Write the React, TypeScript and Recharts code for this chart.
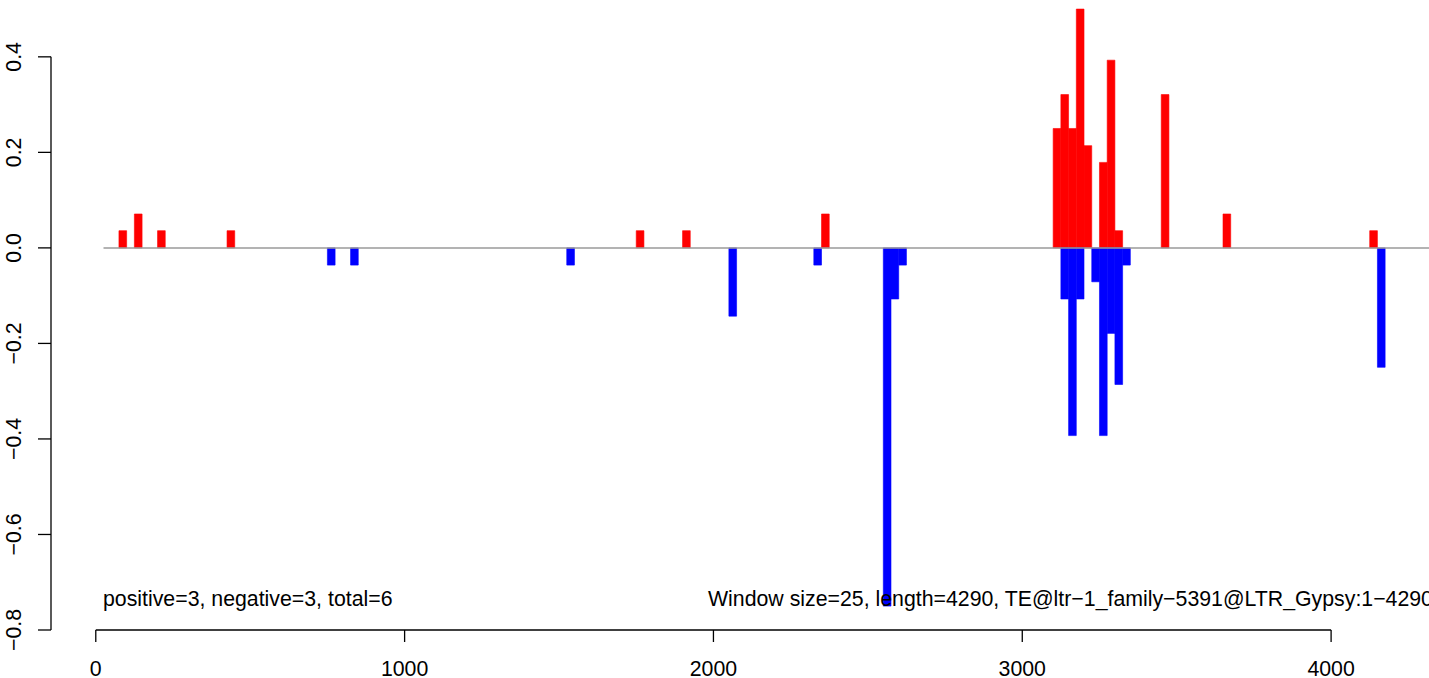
import React from 'react';
import { BarChart, Bar, XAxis, YAxis, ReferenceLine } from 'recharts';

// window start positions (window size 25) and the values
const windowStarts = [
  75, 125, 200, 425, 750, 825, 1525, 1750, 1900, 2050, 2325, 2350, 2550, 2575, 2600,
  3100, 3125, 3150, 3175, 3200, 3225, 3250, 3275, 3300, 3325, 3450, 3650, 4125, 4150,
];
const positiveValues = [
  0.036, 0.071, 0.036, 0.036, 0, 0, 0, 0.036, 0.036, 0, 0, 0.071, 0, 0, 0,
  0.25, 0.321, 0.25, 0.5, 0.214, 0, 0.179, 0.393, 0.036, 0, 0.321, 0.071, 0.036, 0,
];
const negativeValues = [
  0, 0, 0, 0, -0.036, -0.036, -0.036, 0, 0, -0.143, -0.036, 0, -0.75, -0.107, -0.036,
  0, -0.107, -0.393, -0.107, 0, -0.071, -0.393, -0.179, -0.286, -0.036, 0, 0, 0, -0.25,
];
const xTicks = [0, 1000, 2000, 3000, 4000];
const yTicks = [-0.8, -0.6, -0.4, -0.2, 0, 0.2, 0.4];

const WINDOW = 25;
const SEQ_LENGTH = 4290;

const data = windowStarts.map((s, i) => ({
  x: s + WINDOW / 2,
  pos: positiveValues[i] || undefined,
  neg: negativeValues[i] || undefined,
}));

const FONT = '"Liberation Sans", Arial, Helvetica, sans-serif';
const FS = 21.3;
const minus = (s: string) => s.replace('-', '\u2212');

const YTick = (props: any) => {
  const { x, y, payload } = props;
  return (
    <text
      x={x}
      y={y}
      transform={`rotate(-90 ${x} ${y})`}
      textAnchor="middle"
      fontSize={FS}
      fontFamily={FONT}
      fill="#000"
    >
      {minus(payload.value.toFixed(1))}
    </text>
  );
};

const X_MIN = -145;
const X_MAX = 4317;

export default function App() {
  return (
    <div
      style={{
        position: 'absolute',
        left: 0,
        top: 0,
        width: 1429,
        height: 678,
        overflow: 'hidden',
        background: '#fff',
      }}
    >
      <BarChart
        width={1429}
        height={678}
        data={data}
        stackOffset="sign"
        margin={{ top: 0, right: 0, bottom: 0, left: 0 }}
      >
        <XAxis
          type="number"
          dataKey="x"
          domain={[X_MIN, X_MAX]}
          allowDataOverflow
          ticks={xTicks}
          interval={0}
          height={48}
          axisLine={false}
          tickLine={{ stroke: '#000', strokeWidth: 1.3 }}
          tickSize={12}
          tickMargin={19}
          tick={{ fill: '#000', fontSize: FS, fontFamily: FONT }}
        />
        <YAxis
          type="number"
          domain={[-0.8, 0.519]}
          allowDataOverflow
          ticks={yTicks}
          interval={0}
          width={51}
          axisLine={false}
          tickLine={{ stroke: '#000', strokeWidth: 1.3 }}
          tickSize={13}
          tickMargin={17}
          tick={<YTick />}
        />
        <ReferenceLine
          segment={[{ x: WINDOW, y: 0 }, { x: X_MAX, y: 0 }]}
          stroke="#9a9a9a"
          strokeWidth={1.5}
        />
        <Bar
          dataKey="pos"
          stackId="s"
          fill="#ff0000"
          stroke="#ff0000"
          strokeWidth={0.6}
          barSize={7.7}
          isAnimationActive={false}
        />
        <Bar
          dataKey="neg"
          stackId="s"
          fill="#0000ff"
          stroke="#0000ff"
          strokeWidth={0.6}
          barSize={7.7}
          isAnimationActive={false}
        />
        <ReferenceLine
          segment={[{ x: xTicks[0], y: -0.8 }, { x: xTicks[xTicks.length - 1], y: -0.8 }]}
          stroke="#000"
          strokeWidth={1.3}
        />
        <ReferenceLine
          segment={[{ x: X_MIN, y: yTicks[0] }, { x: X_MIN, y: yTicks[yTicks.length - 1] }]}
          stroke="#000"
          strokeWidth={1.3}
        />
      </BarChart>
      <svg
        width={1429}
        height={678}
        style={{ position: 'absolute', left: 0, top: 0, pointerEvents: 'none' }}
      >
        <text x={103} y={606} fontSize={FS} fontFamily={FONT} fill="#000">
          positive=3, negative=3, total=6
        </text>
        <text x={708} y={606} fontSize={FS} fontFamily={FONT} fill="#000">
          {`Window size=${WINDOW}, length=${SEQ_LENGTH}, TE@ltr\u22121_family\u22125391@LTR_Gypsy:1\u2212${SEQ_LENGTH}`}
        </text>
      </svg>
    </div>
  );
}
